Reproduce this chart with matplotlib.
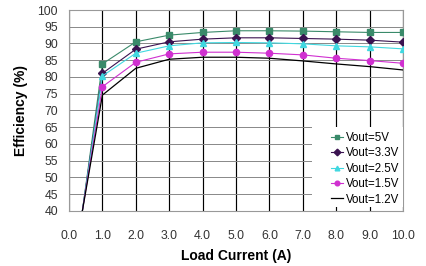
import matplotlib
matplotlib.use('Agg')
from matplotlib import pyplot as plt
from matplotlib.patches import Rectangle

plt.rcParams['font.family'] = ['Liberation Sans', 'DejaVu Sans']

current = [0.4, 1, 2, 3, 4, 5, 6, 7, 8, 9, 10]
eff_5v = [40, 83.9, 90.5, 92.5, 93.3, 93.8, 93.8, 93.7, 93.5, 93.3, 93.3]
eff_33v = [40, 81.1, 88.3, 90.5, 91.3, 91.7, 91.7, 91.5, 91.3, 91.0, 90.4]
eff_25v = [40, 80.3, 87.1, 89.3, 90.2, 90.3, 90.2, 89.9, 89.3, 89.0, 88.4]
eff_15v = [40, 77.1, 84.4, 86.9, 87.4, 87.4, 87.1, 86.6, 85.6, 84.9, 84.1]
eff_12v = [40, 74.6, 82.6, 85.3, 85.9, 85.9, 85.6, 84.8, 83.9, 83.1, 82.1]

series = [
    ('Vout=5V', eff_5v, '#3a8a6a', 's'),
    ('Vout=3.3V', eff_33v, '#3a1250', 'D'),
    ('Vout=2.5V', eff_25v, '#40d8e0', '^'),
    ('Vout=1.5V', eff_15v, '#d030d0', 'o'),
    ('Vout=1.2V', eff_12v, '#000000', None),
]

fig = plt.figure(figsize=(4.27, 2.66), dpi=100)
ax = fig.add_axes([0.1616, 0.2068, 0.7822, 0.7556])

for label, vals, color, marker in series:
    if marker:
        ax.plot(current, vals, color=color, lw=0.8, marker=marker,
                markersize=4.5, markevery=list(range(1, len(current))),
                label=label, zorder=3)
    else:
        ax.plot(current, vals, color=color, lw=0.9, label=label, zorder=3)

ax.set_xlim(0, 10)
ax.set_ylim(40, 100)
ax.set_xticks(range(0, 11))
ax.set_xticklabels([f'{i:.1f}' for i in range(0, 11)])
ax.set_yticks(range(40, 101, 5))

ax.grid(axis='y', color='#888888', lw=0.7)
ax.grid(axis='x', color='black', lw=0.85)
ax.set_axisbelow(True)
for s in ax.spines.values():
    s.set_color('#999999')
    s.set_linewidth(0.8)

ax.tick_params(length=0, labelsize=8.8, labelcolor='#333333')
ax.tick_params(axis='x', pad=14)
ax.tick_params(axis='y', pad=8)

ax.set_xlabel('Load Current (A)', fontsize=10, fontweight='bold', labelpad=5)
ax.set_ylabel('Efficiency (%)', fontsize=10, fontweight='bold', labelpad=7)

# white legend area
ax.add_patch(Rectangle((0.728, 0.02), 0.272, 0.40, transform=ax.transAxes,
                       facecolor='white', edgecolor='none', zorder=4))

leg = ax.legend(loc='lower right', bbox_to_anchor=(1.0, 0.01), fontsize=8.3,
                frameon=False, handlelength=1.1, handletextpad=0.25,
                borderpad=0.3, labelspacing=0.3, borderaxespad=0.0,
                markerscale=0.75)
leg.set_zorder(5)

plt.savefig('out.png', dpi=100)
